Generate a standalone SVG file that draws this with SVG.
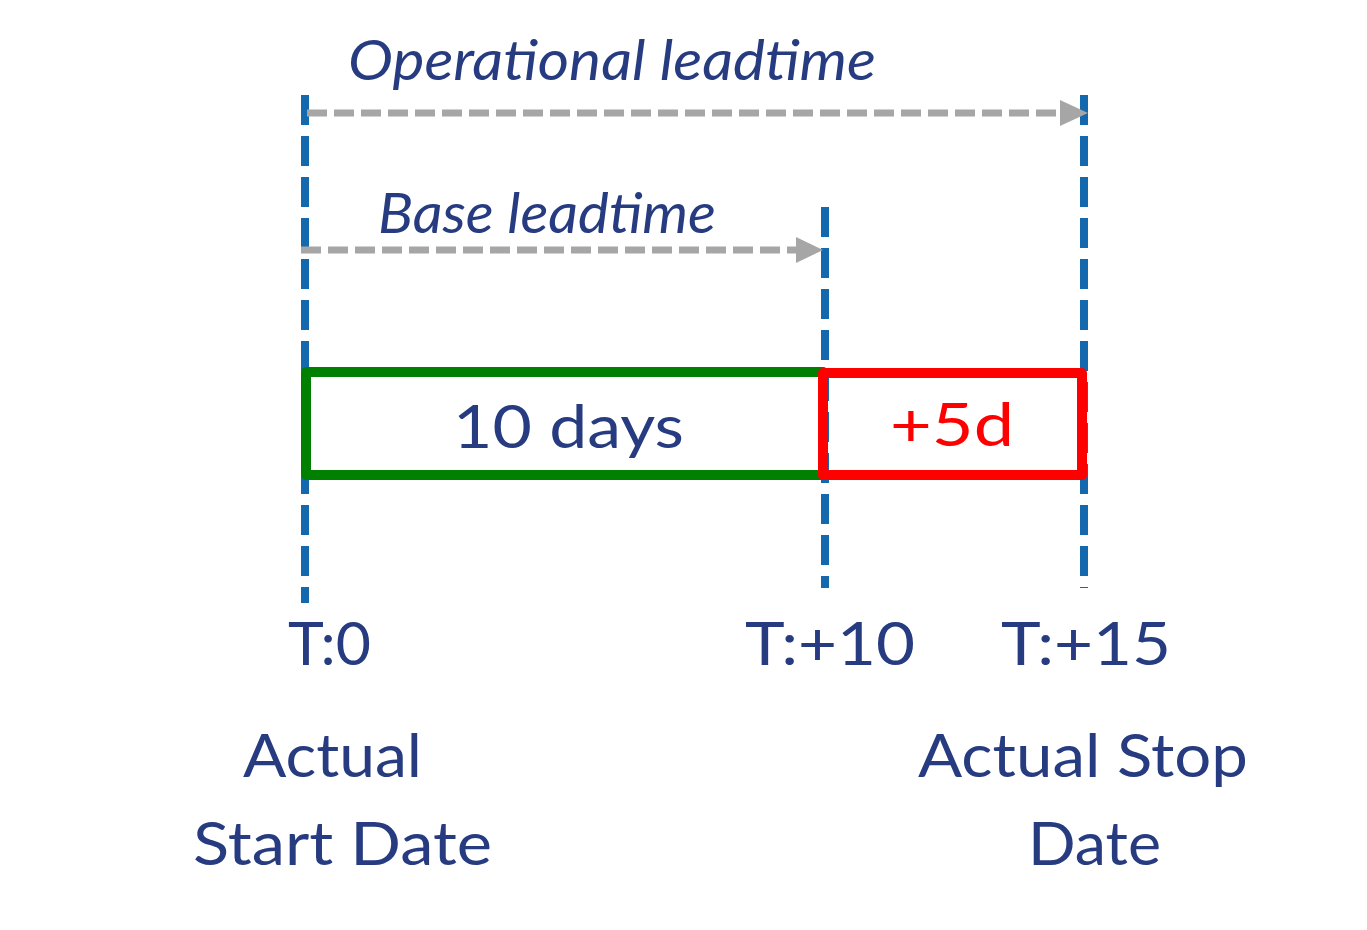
<svg xmlns="http://www.w3.org/2000/svg" width="1367" height="930" viewBox="0 0 1367 930">
<style>
.t{font-family:Lato,"Open Sans","Liberation Sans",sans-serif;fill:#263B80}
.lbl{font-size:60px}
.it{font-size:56px;font-style:italic}
.vl{stroke:#1468AE;stroke-width:8;stroke-dasharray:30 11;fill:none}
.ar{stroke:#A6A6A6;stroke-width:7;stroke-dasharray:20 7;fill:none}
.ah{fill:#A6A6A6}
</style>
<rect width="1367" height="930" fill="#fff"/>
<g id="connectors">
<line class="vl" x1="305" y1="95" x2="305" y2="603"/>
<line class="vl" x1="825" y1="207" x2="825" y2="588"/>
<line class="vl" x1="1084" y1="95" x2="1084" y2="588"/>
</g>
<g id="base-box">
<rect x="306" y="372" width="517" height="103" fill="none" stroke="#008000" stroke-width="10" stroke-linejoin="round"/>
<text class="t lbl" x="453" y="448" textLength="231" lengthAdjust="spacingAndGlyphs">10 days</text>
</g>
<g id="extra-box">
<rect x="823" y="373" width="259" height="102" fill="none" stroke="#FF0000" stroke-width="10" stroke-linejoin="round"/>
<text class="t lbl" x="890" y="446" textLength="124" lengthAdjust="spacingAndGlyphs" style="fill:#FF0000">+5d</text>
</g>
<g id="arrows">
<line class="ar" x1="307" y1="113" x2="1062" y2="113"/>
<polygon class="ah" points="1060,100 1088,113 1060,126"/>
<line class="ar" x1="301" y1="250" x2="797" y2="250"/>
<polygon class="ah" points="796,237 823,250 796,263"/>
</g>
<g id="operational-label">
<text class="t it" x="348" y="80" textLength="528" lengthAdjust="spacingAndGlyphs">Operational leadtime</text>
</g>
<g id="base-label">
<text class="t it" x="378" y="233" textLength="338" lengthAdjust="spacingAndGlyphs">Base leadtime</text>
</g>
<g id="t0">
<text class="t lbl" x="288" y="665" textLength="83" lengthAdjust="spacingAndGlyphs">T:0</text>
</g>
<g id="t10">
<text class="t lbl" x="745" y="665" textLength="170" lengthAdjust="spacingAndGlyphs">T:+10</text>
</g>
<g id="t15">
<text class="t lbl" x="1001" y="665" textLength="170" lengthAdjust="spacingAndGlyphs">T:+15</text>
</g>
<g id="start-label">
<text class="t lbl" x="243" y="777" textLength="179" lengthAdjust="spacingAndGlyphs">Actual</text>
<text class="t lbl" x="193" y="865" textLength="299" lengthAdjust="spacingAndGlyphs">Start Date</text>
</g>
<g id="stop-label">
<text class="t lbl" x="918" y="777" textLength="330" lengthAdjust="spacingAndGlyphs">Actual Stop</text>
<text class="t lbl" x="1028" y="865" textLength="133" lengthAdjust="spacingAndGlyphs">Date</text>
</g>
</svg>
